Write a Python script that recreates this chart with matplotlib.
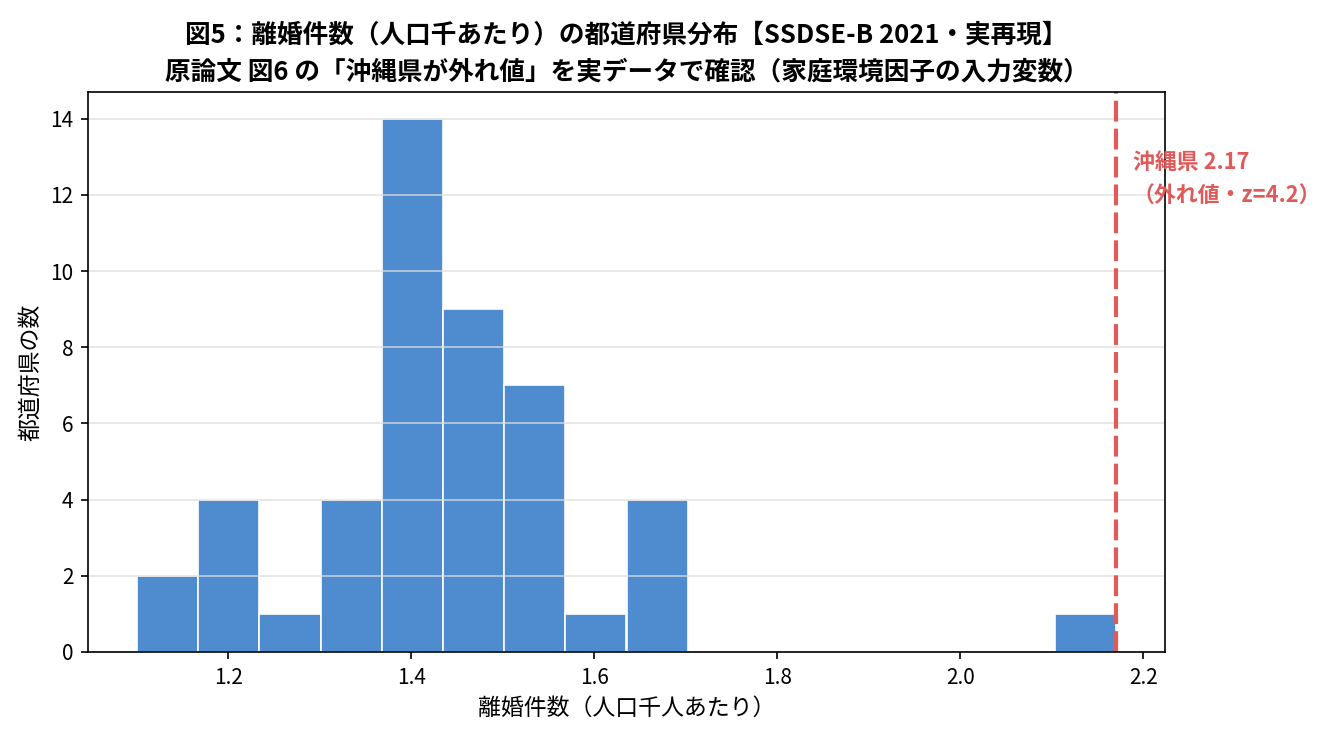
import matplotlib
matplotlib.use("Agg")
import matplotlib.pyplot as plt
import numpy as np

plt.rcParams['font.family'] = ['Noto Sans CJK JP', 'DejaVu Sans']

# histogram bins (min 1.10 .. max 2.17, 16 bins) and prefecture counts
bin_min = 1.10
bin_max = 2.17
n_bins = 16
counts = [2, 4, 1, 4, 14, 9, 7, 1, 4, 0, 0, 0, 0, 0, 0, 1]
okinawa_value = 2.17
okinawa_z = 4.2

edges = np.linspace(bin_min, bin_max, n_bins + 1)
centers = (edges[:-1] + edges[1:]) / 2

W, H = 1333, 734
fig = plt.figure(figsize=(W / 150, H / 150), dpi=150)
ax = fig.add_axes([88 / W, 1 - 652 / H, (1165 - 88) / W, (652 - 92) / H])

ax.hist(centers, bins=edges, weights=counts, color='#4f8bcf', edgecolor='white', linewidth=0.8)
ax.axvline(okinawa_value, color='#e05a5a', linestyle='--', linewidth=2, dashes=(5, 1.7))
ax.text(okinawa_value + 0.018, 12.4, f'沖縄県 {okinawa_value:.2f}\n（外れ値・z={okinawa_z}）',
        color='#e05a5a', fontsize=10.5, fontweight='bold', va='center', ha='left', linespacing=1.6)

ax.grid(axis='y', color='#dddddd', alpha=0.8, linewidth=0.8)
ax.set_xlabel('離婚件数（人口千人あたり）', fontsize=11)
ax.set_ylabel('都道府県の数', fontsize=11)
ax.tick_params(labelsize=10)
ax.set_title('図5：離婚件数（人口千あたり）の都道府県分布【SSDSE-B 2021・実再現】\n'
             '原論文 図6 の「沖縄県が外れ値」を実データで確認（家庭環境因子の入力変数）',
             fontsize=12.3, fontweight='bold', pad=6, linespacing=1.5)

fig.savefig('out.png', dpi=150)
